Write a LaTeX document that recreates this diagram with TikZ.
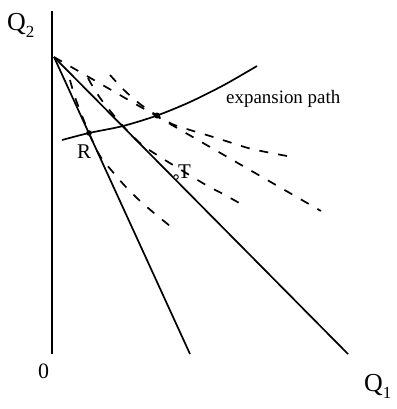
\documentclass[tikz,border=0pt]{standalone}
\usepackage{fontspec}
\setmainfont{Liberation Serif}
\tikzset{
  solidline/.style={line width=1.7bp},
  dashline/.style={line width=1.7bp, dash pattern=on 9bp off 10bp},
  lbl/.style={inner sep=0pt, anchor=base west},
}
\newcommand{\outq}[1]{Q\raisebox{-0.28em}{\fontsize{17}{17}\selectfont #1}}
\begin{document}
\begin{tikzpicture}[x=1bp,y=-1bp]
    \useasboundingbox (0,0) rectangle (397,409);
    % --- punti fissi ---
    \coordinate (top) at (52,11);
    \coordinate (orig) at (52,354);
    \coordinate (apex) at (54,57);
    \coordinate (end1) at (190,354);
    \coordinate (end2) at (348,354);
    \coordinate (endA) at (321,211);
    \coordinate (R) at (89,133);
    \coordinate (P) at (157,115.5);
    \coordinate (T) at (176,177);
    % --- asse e rette ---
    \draw[solidline] (top) -- (orig);
    \draw[solidline] (apex) -- (end1);
    \draw[solidline] (apex) -- (end2);
    \draw[dashline] (apex) -- (endA);
    % --- curve tratteggiate ---
    \draw[dashline] plot[smooth] coordinates {(70,80) (76,100) (R) (100,156) (112,171) (125,186) (139,200) (154,213) (170,226)};
    \draw[dashline] plot[smooth] coordinates {(88,78) (93,87) (103,102) (123,126) (141,144) (157,155) (173,165) (206,185) (225,195) (241,204)};
    \draw[dashline] plot[smooth] coordinates {(110,75) (124,90) (140,104) (P) (172,124) (190,130) (210,136) (229,142) (248,148) (266,152) (287,156)};
    % --- sentiero di espansione ---
    \draw[solidline] plot[smooth] coordinates {(62,140) (R) (123,126) (P) (190,102) (224,85) (257,66)};
    \fill (R) circle (2.8);
    \fill (P) circle (3);
    \draw[line width=0.9bp, fill=white] (T) circle (2.3);
    % --- etichette ---
    \node[lbl, font=\fontsize{26}{26}\selectfont] (qtwo) at (7,30) {\outq{2}};
    \node[lbl, font=\fontsize{26}{26}\selectfont] (qone) at (364,391) {\outq{1}};
    \node[lbl, font=\fontsize{22}{22}\selectfont] (zero) at (38,378) {0};
    \node[lbl, font=\fontsize{21}{21}\selectfont] (rlbl) at (77,158) {R};
    \node[lbl, font=\fontsize{21}{21}\selectfont] (tlbl) at (178,178) {T};
    \node[lbl, font=\fontsize{19}{19}\selectfont] (exp) at (226,103) {expansion path};
\end{tikzpicture}
\end{document}
